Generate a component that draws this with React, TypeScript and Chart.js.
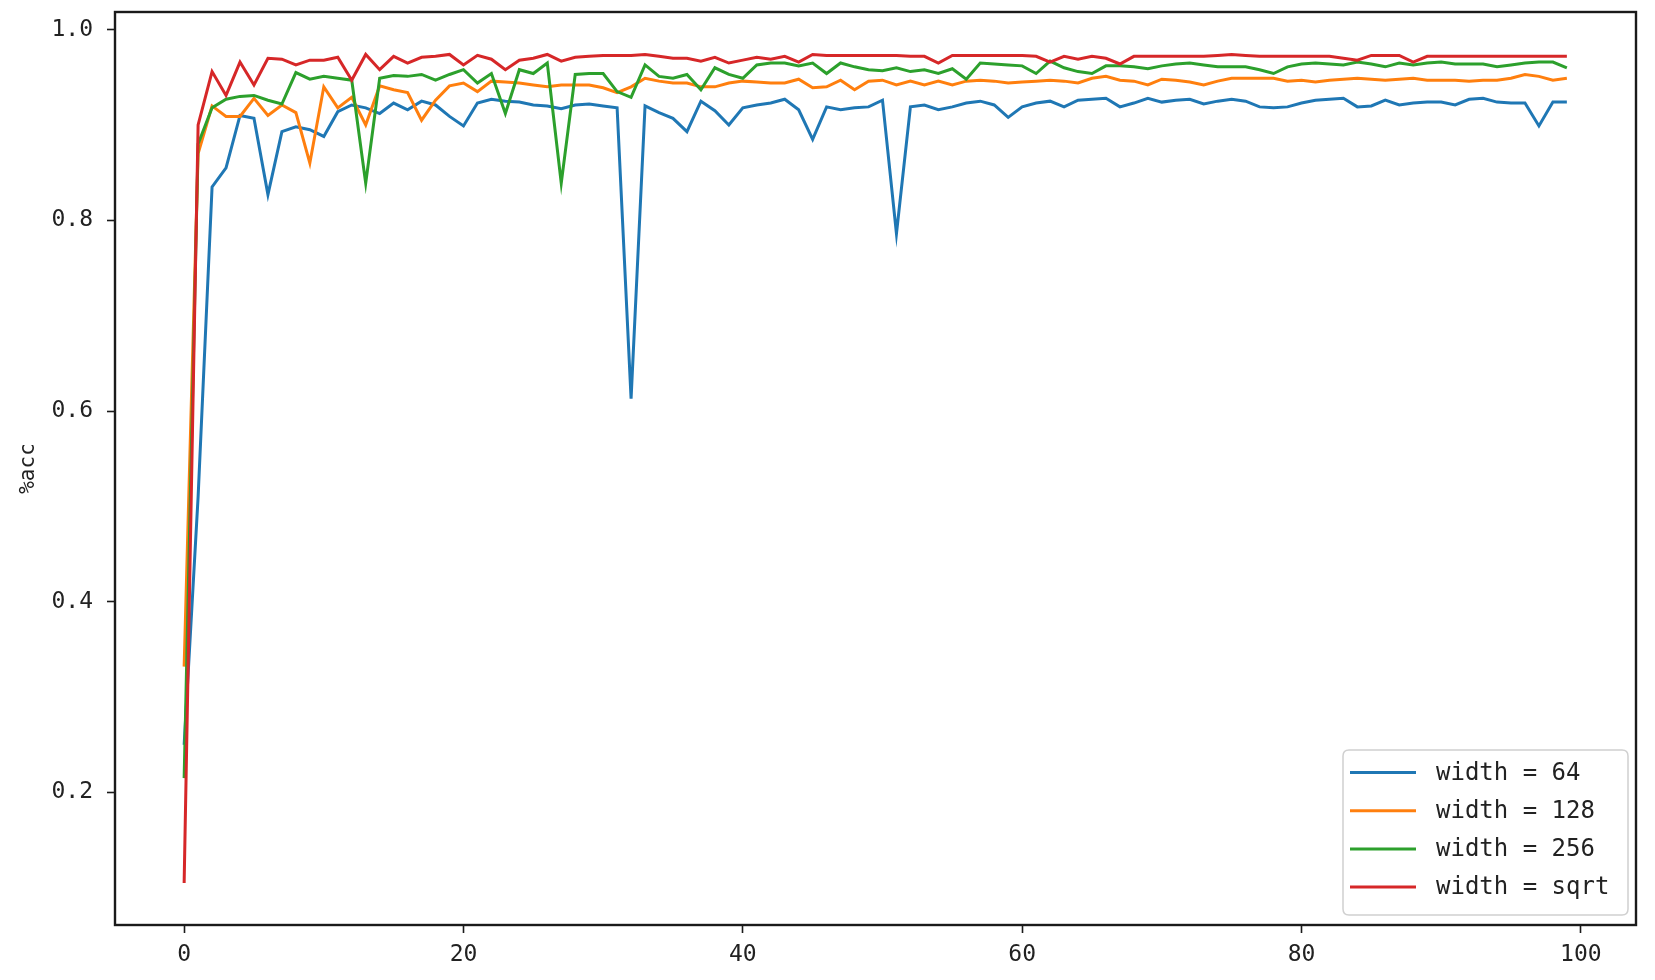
import React, { useEffect, useRef } from "react";
import { Chart, registerables } from "chart.js";

Chart.register(...registerables);

const epochs: number[] = Array.from({ length: 100 }, (_, i) => i);

const width64: number[] = [
  0.25, 0.51, 0.835, 0.855, 0.91, 0.907, 0.827, 0.893, 0.898, 0.895,
  0.888, 0.914, 0.921, 0.918, 0.912, 0.923, 0.916, 0.925, 0.921, 0.909,
  0.899, 0.923, 0.927, 0.925, 0.924, 0.921, 0.92, 0.917, 0.921, 0.922,
  0.92, 0.918, 0.613, 0.92, 0.913, 0.907, 0.893, 0.925, 0.915, 0.9,
  0.918, 0.921, 0.923, 0.927, 0.916, 0.885, 0.919, 0.916, 0.918, 0.919,
  0.926, 0.786, 0.919, 0.921, 0.916, 0.919, 0.923, 0.925, 0.921, 0.908,
  0.919, 0.923, 0.925, 0.919, 0.926, 0.927, 0.928, 0.919, 0.923, 0.928,
  0.924, 0.926, 0.927, 0.922, 0.925, 0.927, 0.925, 0.919, 0.918, 0.919,
  0.923, 0.926, 0.927, 0.928, 0.919, 0.92, 0.926, 0.921, 0.923, 0.924,
  0.924, 0.921, 0.927, 0.928, 0.924, 0.923, 0.923, 0.899, 0.924, 0.924,
];

const width128: number[] = [
  0.332, 0.87, 0.92, 0.909, 0.909, 0.928, 0.91, 0.921, 0.913, 0.86,
  0.94, 0.918, 0.929, 0.9, 0.941, 0.937, 0.934, 0.905, 0.926, 0.941,
  0.944, 0.935, 0.946, 0.945, 0.944, 0.942, 0.94, 0.942, 0.942, 0.942,
  0.939, 0.934, 0.94, 0.949, 0.946, 0.944, 0.944, 0.94, 0.94, 0.944,
  0.946, 0.945, 0.944, 0.944, 0.948, 0.939, 0.94, 0.947, 0.937, 0.946,
  0.947, 0.942, 0.946, 0.942, 0.946, 0.942, 0.946, 0.947, 0.946, 0.944,
  0.945, 0.946, 0.947, 0.946, 0.944, 0.949, 0.951, 0.947, 0.946, 0.942,
  0.948, 0.947, 0.945, 0.942, 0.946, 0.949, 0.949, 0.949, 0.949, 0.946,
  0.947, 0.945, 0.947, 0.948, 0.949, 0.948, 0.947, 0.948, 0.949, 0.947,
  0.947, 0.947, 0.946, 0.947, 0.947, 0.949, 0.953, 0.951, 0.947, 0.949,
];

const width256: number[] = [
  0.215, 0.88, 0.918, 0.927, 0.93, 0.931, 0.926, 0.922, 0.955, 0.948,
  0.951, 0.949, 0.947, 0.839, 0.949, 0.952, 0.951, 0.953, 0.947, 0.953,
  0.958, 0.944, 0.954, 0.912, 0.958, 0.954, 0.965, 0.839, 0.953, 0.954,
  0.954, 0.935, 0.929, 0.963, 0.951, 0.949, 0.953, 0.937, 0.96, 0.953,
  0.949, 0.963, 0.965, 0.965, 0.962, 0.965, 0.954, 0.965, 0.961, 0.958,
  0.957, 0.96, 0.956, 0.958, 0.954, 0.959, 0.948, 0.965, 0.964, 0.963,
  0.962, 0.954, 0.967, 0.96, 0.956, 0.954, 0.962, 0.962, 0.961, 0.959,
  0.962, 0.964, 0.965, 0.963, 0.961, 0.961, 0.961, 0.958, 0.954, 0.961,
  0.964, 0.965, 0.964, 0.963, 0.966, 0.964, 0.961, 0.965, 0.963, 0.965,
  0.966, 0.964, 0.964, 0.964, 0.961, 0.963, 0.965, 0.966, 0.966, 0.96,
];

const widthSqrt: number[] = [
  0.105, 0.9, 0.956, 0.931, 0.966, 0.942, 0.97, 0.969, 0.963, 0.968,
  0.968, 0.971, 0.947, 0.974, 0.958, 0.972, 0.965, 0.971, 0.972, 0.974,
  0.963, 0.973, 0.969, 0.958, 0.968, 0.97, 0.974, 0.967, 0.971, 0.972,
  0.973, 0.973, 0.973, 0.974, 0.972, 0.97, 0.97, 0.967, 0.971, 0.965,
  0.968, 0.971, 0.969, 0.972, 0.966, 0.974, 0.973, 0.973, 0.973, 0.973,
  0.973, 0.973, 0.972, 0.972, 0.965, 0.973, 0.973, 0.973, 0.973, 0.973,
  0.973, 0.972, 0.966, 0.972, 0.969, 0.972, 0.97, 0.964, 0.972, 0.972,
  0.972, 0.972, 0.972, 0.972, 0.973, 0.974, 0.973, 0.972, 0.972, 0.972,
  0.972, 0.972, 0.972, 0.97, 0.968, 0.973, 0.973, 0.973, 0.966, 0.972,
  0.972, 0.972, 0.972, 0.972, 0.972, 0.972, 0.972, 0.972, 0.972, 0.972,
];

const seriesLabels: string[] = ["width = 64", "width = 128", "width = 256", "width = sqrt"];
const seriesColors: string[] = ["#1f77b4", "#ff7f0e", "#2ca02c", "#d62728"];
const xTicks: number[] = [0, 20, 40, 60, 80, 100];
const yTicks: number[] = [0.2, 0.4, 0.6, 0.8, 1.0];

const MONO = "'DejaVu Sans Mono', 'Liberation Mono', monospace";

const framePlugin = {
  id: "frame",
  afterDatasetsDraw(chart: any) {
    const { ctx, chartArea } = chart;
    ctx.save();
    ctx.strokeStyle = "#1a1a1a";
    ctx.lineWidth = 2.4;
    ctx.strokeRect(chartArea.left, chartArea.top, chartArea.right - chartArea.left, chartArea.bottom - chartArea.top);
    ctx.restore();
  },
};

const legendPlugin = {
  id: "innerLegend",
  afterDraw(chart: any) {
    const { ctx, chartArea } = chart;
    const w = 285;
    const h = 165;
    const x = chartArea.right - 8 - w;
    const y = chartArea.bottom - 10 - h;
    ctx.save();
    ctx.beginPath();
    const r = 6;
    ctx.moveTo(x + r, y);
    ctx.lineTo(x + w - r, y);
    ctx.quadraticCurveTo(x + w, y, x + w, y + r);
    ctx.lineTo(x + w, y + h - r);
    ctx.quadraticCurveTo(x + w, y + h, x + w - r, y + h);
    ctx.lineTo(x + r, y + h);
    ctx.quadraticCurveTo(x, y + h, x, y + h - r);
    ctx.lineTo(x, y + r);
    ctx.quadraticCurveTo(x, y, x + r, y);
    ctx.closePath();
    ctx.fillStyle = "rgba(255,255,255,0.85)";
    ctx.fill();
    ctx.strokeStyle = "#d0d0d0";
    ctx.lineWidth = 1.5;
    ctx.stroke();
    chart.data.datasets.forEach((ds: any, i: number) => {
      const cy = y + 22.5 + i * 38.2;
      ctx.beginPath();
      ctx.strokeStyle = ds.borderColor;
      ctx.lineWidth = 3;
      ctx.moveTo(x + 7, cy);
      ctx.lineTo(x + 73, cy);
      ctx.stroke();
      ctx.fillStyle = "#222";
      ctx.font = `24px ${MONO}`;
      ctx.textBaseline = "middle";
      ctx.textAlign = "left";
      ctx.fillText(ds.label, x + 93, cy + 1);
    });
    ctx.restore();
  },
};

export default function App() {
  const canvasRef = useRef<HTMLCanvasElement | null>(null);

  useEffect(() => {
    const canvas = canvasRef.current;
    if (!canvas) return;
    const all = [width64, width128, width256, widthSqrt];
    const chart = new Chart(canvas, {
      type: "line",
      data: {
        datasets: all.map((vals, k) => ({
          label: seriesLabels[k],
          data: vals.map((v, i) => ({ x: epochs[i], y: v })),
          borderColor: seriesColors[k],
          backgroundColor: seriesColors[k],
          borderWidth: 3,
          pointRadius: 0,
          tension: 0,
          fill: false,
          order: 4 - k,
        })),
      },
      options: {
        responsive: false,
        animation: false,
        devicePixelRatio: 1,
        layout: { padding: { top: 12, right: 19, left: 0, bottom: 0 } },
        plugins: {
          legend: { display: false },
          tooltip: { enabled: false },
        },
        scales: {
          x: {
            type: "linear",
            min: -4.95,
            max: 103.95,
            afterBuildTicks: (scale: any) => {
              scale.ticks = xTicks.map((v) => ({ value: v }));
            },
            afterFit: (scale: any) => {
              scale.height = 55;
              scale.paddingLeft = 0;
              scale.paddingRight = 0;
            },
            grid: {
              drawOnChartArea: false,
              drawTicks: true,
              tickLength: 8,
              tickColor: "#1a1a1a",
              tickWidth: 1.6,
            },
            border: { display: false },
            ticks: {
              autoSkip: false,
              maxRotation: 0,
              padding: 8,
              color: "#222",
              font: { family: MONO, size: 23 },
              callback: (v: any) => String(v),
            },
          },
          y: {
            type: "linear",
            min: 0.061,
            max: 1.0185,
            afterBuildTicks: (scale: any) => {
              scale.ticks = yTicks.map((v) => ({ value: v }));
            },
            afterFit: (scale: any) => {
              scale.width = 115;
              scale.paddingTop = 0;
              scale.paddingBottom = 0;
            },
            grid: {
              drawOnChartArea: false,
              drawTicks: true,
              tickLength: 8,
              tickColor: "#1a1a1a",
              tickWidth: 1.6,
            },
            border: { display: false },
            title: {
              display: true,
              text: "%acc",
              color: "#222",
              font: { family: MONO, size: 21 },
              padding: { top: 16, bottom: 4 },
            },
            ticks: {
              padding: 14,
              color: "#222",
              font: { family: MONO, size: 23 },
              callback: (v: any) => Number(v).toFixed(1),
            },
          },
        },
      },
      plugins: [framePlugin, legendPlugin],
    });
    return () => chart.destroy();
  }, []);

  return (
    <div style={{ position: "absolute", left: 0, top: 0, width: 1655, height: 980, background: "#fff" }}>
      <canvas ref={canvasRef} width={1655} height={980} style={{ display: "block", width: 1655, height: 980 }} />
    </div>
  );
}
